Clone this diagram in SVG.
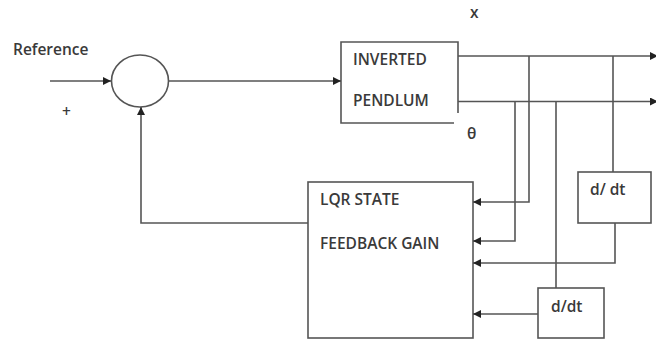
<svg xmlns="http://www.w3.org/2000/svg" width="656" height="341" viewBox="0 0 656 341">
<style>
.ln{fill:none;stroke:#555;stroke-width:1.6}
.bx{fill:#fff;stroke:#555;stroke-width:1.6}
.t{font-family:"Open Sans","Liberation Sans",sans-serif;font-size:15.5px;fill:#3a3a3a;font-weight:600}
</style>
<defs>
<marker id="ah" viewBox="0 0 10 10" refX="10" refY="5" markerWidth="8" markerHeight="8" markerUnits="userSpaceOnUse" orient="auto">
<path d="M0,0 L10,5 L0,10 z" fill="#222"/>
</marker>
</defs>
<rect width="656" height="341" fill="#fff"/>
<g id="summer">
<ellipse cx="140" cy="81" rx="28.5" ry="26" class="bx"/>
</g>
<g id="pendulum">
<path d="M458,113 V42 H341 V123 H454" class="ln"/>
<text x="353" y="65" class="t">INVERTED</text>
<text x="353" y="106" class="t">PENDLUM</text>
</g>
<g id="lqr">
<rect x="308" y="182" width="165" height="156" class="bx"/>
<text x="320" y="205" class="t">LQR STATE</text>
<text x="320" y="249" class="t">FEEDBACK GAIN</text>
</g>
<g id="ddt1">
<rect x="578" y="172" width="73" height="51" class="bx"/>
<text x="590" y="195" class="t">d/ dt</text>
</g>
<g id="ddt2">
<rect x="538" y="288" width="66" height="50" class="bx"/>
<text x="551" y="312" class="t">d/dt</text>
</g>
<g id="labels">
<text x="13" y="55" class="t">Reference</text>
<text x="62" y="117" class="t">+</text>
<text x="470" y="18" class="t">x</text>
<text x="467" y="139" class="t">θ</text>
</g>
<g id="connectors">
<path d="M50,81 H111" class="ln" marker-end="url(#ah)"/>
<path d="M168.5,81 H341" class="ln" marker-end="url(#ah)"/>
<path d="M308,223 H141 V107" class="ln" marker-end="url(#ah)"/>
<path d="M458,56 H658" class="ln" marker-end="url(#ah)"/>
<path d="M458,101.5 H658" class="ln" marker-end="url(#ah)"/>
<path d="M529,56 V202 H473" class="ln" marker-end="url(#ah)"/>
<path d="M515,101.5 V241 H473" class="ln" marker-end="url(#ah)"/>
<path d="M556,101.5 V288" class="ln"/>
<path d="M613,56 V172" class="ln"/>
<path d="M615,223 V263 H473" class="ln" marker-end="url(#ah)"/>
<path d="M538,314 H473" class="ln" marker-end="url(#ah)"/>
</g>
</svg>
